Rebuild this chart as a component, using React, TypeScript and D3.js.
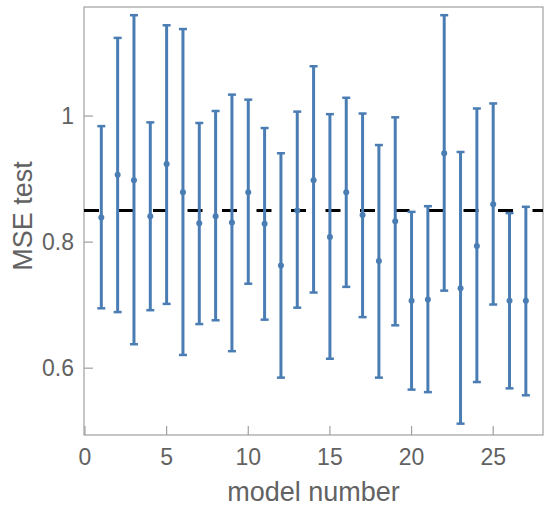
import React from "react";
import * as d3 from "d3";

const models = [1,2,3,4,5,6,7,8,9,10,11,12,13,14,15,16,17,18,19,20,21,22,23,24,25,26,27];
const means = [0.839,0.907,0.898,0.841,0.924,0.879,0.830,0.841,0.831,0.879,0.829,0.763,0.850,0.898,0.808,0.879,0.843,0.770,0.833,0.707,0.709,0.941,0.727,0.794,0.860,0.707,0.707];
const upper = [0.984,1.124,1.160,0.990,1.144,1.138,0.989,1.008,1.034,1.026,0.981,0.941,1.007,1.079,1.003,1.029,1.004,0.954,0.998,0.848,0.857,1.160,0.943,1.012,1.020,0.846,0.856];
const lower = [0.695,0.689,0.638,0.692,0.702,0.621,0.670,0.676,0.627,0.734,0.677,0.585,0.696,0.720,0.615,0.729,0.681,0.585,0.668,0.566,0.562,0.723,0.512,0.578,0.701,0.568,0.557];
const reference = 0.85;
const xTicks = [0,5,10,15,20,25];
const yTicks = [0.6,0.8,1];

export default function App() {
  const W = 550, H = 510;
  const left = 84, right = 543, top = 7, bottom = 435;
  const x = d3.scaleLinear().domain([-0.06, 28.05]).range([left, right]);
  const y = d3.scaleLinear().domain([0.494, 1.173]).range([bottom, top]);
  const color = "#4a7db3";
  const gray = "#a0a0a0";
  const text = "#626262";
  const font = "'Liberation Sans', Arial, sans-serif";
  return (
    <div style={{ position: "absolute", left: 0, top: 0 }}>
      <svg width={W} height={H} style={{ display: "block", background: "#fff" }}>
        <rect x={left} y={top} width={right - left} height={bottom - top} fill="none" stroke={gray} strokeWidth={1.2} />
        {xTicks.map((t) => (
          <g key={"x" + t}>
            <line x1={x(t)} x2={x(t)} y1={bottom} y2={bottom - 9} stroke={gray} strokeWidth={1.2} />
            <text x={x(t)} y={465} textAnchor="middle" fontSize={23} fontFamily={font} fill={text}>{t}</text>
          </g>
        ))}
        {yTicks.map((t) => (
          <g key={"y" + t}>
            <line x1={left} x2={left + 9} y1={y(t)} y2={y(t)} stroke={gray} strokeWidth={1.2} />
            <text x={74} y={y(t)} dy="0.36em" textAnchor="end" fontSize={23} fontFamily={font} fill={text}>{t}</text>
          </g>
        ))}
        <line x1={left} x2={right} y1={y(reference)} y2={y(reference)} stroke="#000" strokeWidth={3} strokeDasharray="15,19.5" />
        {models.map((m, i) => (
          <g key={"m" + m}>
            <line x1={x(m)} x2={x(m)} y1={y(lower[i])} y2={y(upper[i])} stroke={color} strokeWidth={3} />
            <line x1={x(m) - 4} x2={x(m) + 4} y1={y(lower[i])} y2={y(lower[i])} stroke={color} strokeWidth={2.5} />
            <line x1={x(m) - 4} x2={x(m) + 4} y1={y(upper[i])} y2={y(upper[i])} stroke={color} strokeWidth={2.5} />
            <circle cx={x(m)} cy={y(means[i])} r={3} fill={color} />
          </g>
        ))}
        <text x={(left + right) / 2} y={501} textAnchor="middle" fontSize={27} fontFamily={font} fill={text}>model number</text>
        <text transform={`translate(32,216) rotate(-90)`} textAnchor="middle" fontSize={27} fontFamily={font} fill={text}>MSE test</text>
      </svg>
    </div>
  );
}
